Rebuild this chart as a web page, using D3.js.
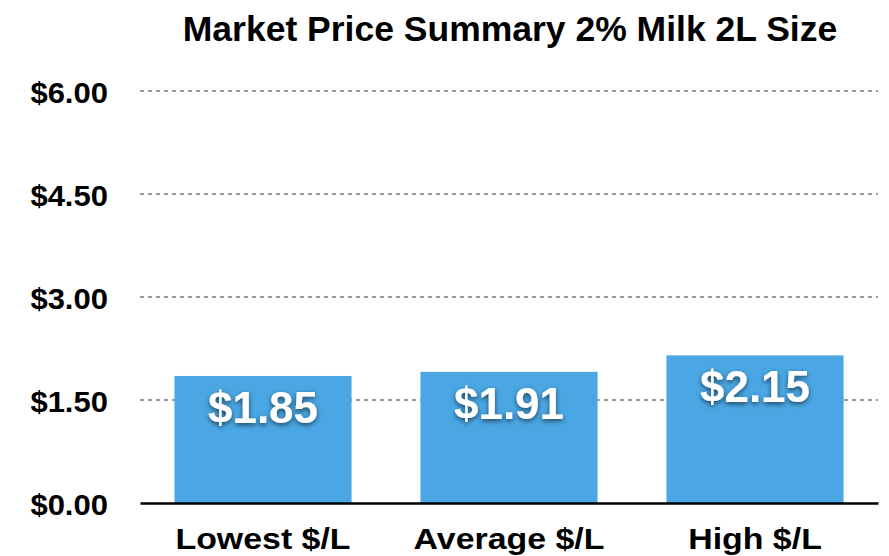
<!DOCTYPE html>
<html>
<head>
<meta charset="utf-8">
<script src="https://cdn.jsdelivr.net/npm/d3@7"></script>
<style>
  body { margin: 0; background: #fff; }
  text { font-family: "Liberation Sans", Arial, sans-serif; font-weight: bold; }
</style>
</head>
<body>
<svg id="chart" width="889" height="556"></svg>
<script>
// chart data
const categories = ['Lowest $/L', 'Average $/L', 'High $/L'];
const prices = [1.85, 1.91, 2.15];
const yTicks = [0, 1.5, 3, 4.5, 6];
const title = 'Market Price Summary 2% Milk 2L Size';

const svg = d3.select('#chart');
const margin = {top: 91, right: 11, bottom: 53, left: 140};
const width = 889 - margin.left - margin.right;
const height = 556 - margin.top - margin.bottom;

// drop shadow for the value labels
const defs = svg.append('defs');
const shadow = defs.append('filter').attr('id', 'shadow')
    .attr('x', '-20%').attr('y', '-20%').attr('width', '140%').attr('height', '160%');
shadow.append('feDropShadow')
    .attr('dx', 0).attr('dy', 2).attr('stdDeviation', 2.5)
    .attr('flood-color', '#000').attr('flood-opacity', 0.6);

const g = svg.append('g').attr('transform', `translate(${margin.left},${margin.top})`);

let x = d3.scaleBand().domain(categories).range([0, width]).paddingInner(0.28).paddingOuter(0.14);
let y = d3.scaleLinear().domain([0, 6]).range([height, 0]);

// title
svg.append('text')
    .attr('x', 510).attr('y', 41)
    .attr('text-anchor', 'middle')
    .style('font-size', '35.5px')
    .text(title);

// dashed grid lines
g.selectAll('.grid')
    .data(yTicks.filter(d => d > 0))
    .enter()
    .append('line')
    .attr('x1', 0).attr('x2', width)
    .attr('y1', d => y(d)).attr('y2', d => y(d))
    .attr('stroke', '#9a9a9a')
    .attr('stroke-width', 2)
    .attr('stroke-dasharray', '4,4');

// y axis labels
let yAxis = d3.axisLeft(y).tickValues(yTicks).tickSize(0)
    .tickFormat(d => '$' + d3.format('.2f')(d));
let yg = g.append('g').call(yAxis);
yg.select('.domain').remove();
yg.selectAll('text')
    .attr('x', 0).attr('dy', null).attr('y', 11)
    .attr('transform', 'translate(-32,0) scale(1.07,1)')
    .style('font-size', '29px').attr('fill', '#000')
    .style('font-family', '"Liberation Sans", Arial, sans-serif');

// bars
g.selectAll('.bar')
    .data(prices)
    .enter()
    .append('rect')
    .attr('x', (d, i) => x(categories[i]))
    .attr('y', d => y(d))
    .attr('width', x.bandwidth())
    .attr('height', d => height - y(d))
    .attr('fill', '#4aa7e4');

// value labels
g.selectAll('.val')
    .data(prices)
    .enter()
    .append('text')
    .attr('x', (d, i) => x(categories[i]) + x.bandwidth() / 2)
    .attr('y', d => y(d) + 47)
    .attr('text-anchor', 'middle')
    .attr('fill', '#fff')
    .attr('filter', 'url(#shadow)')
    .style('font-size', '44px')
    .text(d => '$' + d3.format('.2f')(d));

// x axis
let xAxis = d3.axisBottom(x).tickSize(0);
let xg = g.append('g').attr('transform', `translate(0,${height})`).call(xAxis);
xg.select('.domain').attr('stroke', '#000').attr('stroke-width', 2.5);
xg.selectAll('text')
    .attr('y', 0).attr('dy', null)
    .attr('transform', 'translate(0,46) scale(1.13,1)')
    .style('font-size', '30px').attr('fill', '#000')
    .style('font-family', '"Liberation Sans", Arial, sans-serif');
</script>
</body>
</html>
